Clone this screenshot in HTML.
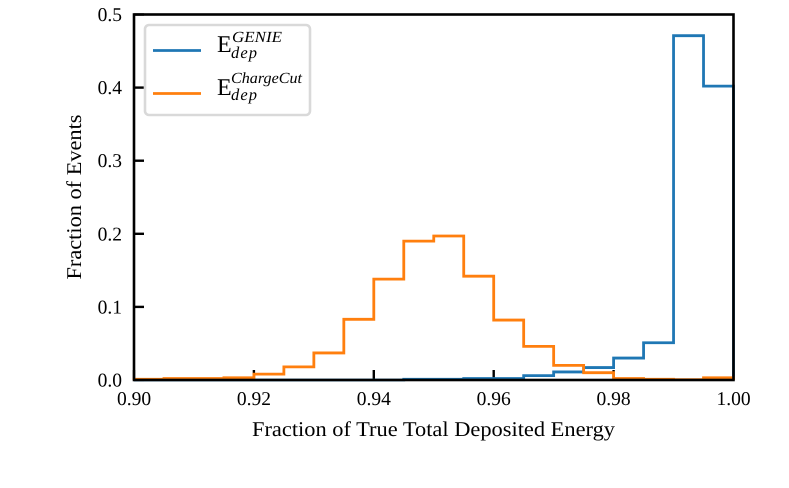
<!DOCTYPE html>
<html>
<head>
<meta charset="utf-8">
<style>
html,body{margin:0;padding:0;background:#fff;}
svg{display:block;}
text{font-family:"Liberation Serif",serif;fill:#000;text-rendering:geometricPrecision;}
</style>
</head>
<body>
<svg id="chart" width="789" height="488" viewBox="0 0 789 488" xmlns="http://www.w3.org/2000/svg">
  <rect x="134" y="14.5" width="599.5" height="365.5" fill="#fff"/>
  <g id="ticks"></g>
  <g id="series"></g>
  <g id="labels"></g>
  <rect x="134" y="14.5" width="599.5" height="365.5" fill="none" stroke="#000" stroke-width="2.6"/>
  <text x="433.5" y="436" font-size="21" text-anchor="middle" textLength="363" lengthAdjust="spacingAndGlyphs">Fraction of True Total Deposited Energy</text>
  <text transform="translate(81,197) rotate(-90)" font-size="21" text-anchor="middle" textLength="165" lengthAdjust="spacingAndGlyphs">Fraction of Events</text>
  <g>
    <rect x="145" y="25" width="165" height="90" rx="4" ry="4" fill="#fff" fill-opacity="0.9" stroke="#d9d9d9" stroke-width="2.6"/>
    <line x1="153" x2="201" y1="50.5" y2="50.5" stroke="#1f77b4" stroke-width="2.8"/>
    <text x="217" y="52" font-size="24">E</text>
    <text x="232" y="42" font-size="15.5" font-style="italic" textLength="50" lengthAdjust="spacingAndGlyphs">GENIE</text>
    <text x="231" y="58" font-size="16.5" font-style="italic" textLength="26">dep</text>
    <line x1="153" x2="201" y1="93.5" y2="93.5" stroke="#ff7f0e" stroke-width="2.8"/>
    <text x="217" y="95" font-size="24">E</text>
    <text x="231" y="83" font-size="15.5" font-style="italic" textLength="71" lengthAdjust="spacingAndGlyphs">ChargeCut</text>
    <text x="231" y="100" font-size="16.5" font-style="italic" textLength="26">dep</text>
  </g>
</svg>
<script>
const binEdges = [0.90,0.905,0.91,0.915,0.92,0.925,0.93,0.935,0.94,0.945,0.95,0.955,0.96,0.965,0.97,0.975,0.98,0.985,0.99,0.995,1.00];
const genieValues = [0,0,0,0,0,0,0,0,0,0.001,0.001,0.002,0.002,0.006,0.011,0.017,0.03,0.051,0.471,0.402];
const chargeCutValues = [0.001,0.002,0.002,0.003,0.008,0.018,0.037,0.083,0.138,0.19,0.197,0.142,0.082,0.046,0.02,0.01,0.002,0.001,0.0005,0.003];
const xTickLabels = ["0.90","0.92","0.94","0.96","0.98","1.00"];
const yTickLabels = ["0.0","0.1","0.2","0.3","0.4","0.5"];

const NS = 'http://www.w3.org/2000/svg';
const xMin = 0.9, xMax = 1.0, yMin = 0, yMax = 0.5;
const left = 134, right = 733.5, top_ = 14.5, bottom = 380;
function xScale(v){ return left + (v - xMin) / (xMax - xMin) * (right - left); }
function yScale(v){ return bottom - (v - yMin) / (yMax - yMin) * (bottom - top_); }

const ticksG = document.getElementById('ticks');
const labelsG = document.getElementById('labels');
const seriesG = document.getElementById('series');

xTickLabels.forEach(function(t){
  const x = xScale(parseFloat(t));
  const tick = document.createElementNS(NS, 'line');
  
  
  tick.setAttribute('x1', x);
  tick.setAttribute('x2', x);
  tick.setAttribute('y1', bottom);
  tick.setAttribute('y2', bottom - 10);
  tick.setAttribute('stroke', '#000');
  tick.setAttribute('stroke-width', '2.4');
  ticksG.appendChild(tick);
  const label = document.createElementNS(NS, 'text');
  
  
  label.setAttribute('x', x);
  label.setAttribute('y', 405);
  label.setAttribute('font-size', '19.5');
  label.setAttribute('text-anchor', 'middle');
  label.textContent = t;
  labelsG.appendChild(label);
});

yTickLabels.forEach(function(t){
  const y = yScale(parseFloat(t));
  const tick = document.createElementNS(NS, 'line');
  
  
  tick.setAttribute('x1', left);
  tick.setAttribute('x2', left + 10);
  tick.setAttribute('y1', y);
  tick.setAttribute('y2', y);
  tick.setAttribute('stroke', '#000');
  tick.setAttribute('stroke-width', '2.4');
  ticksG.appendChild(tick);
  const label = document.createElementNS(NS, 'text');
  
  
  label.setAttribute('x', 122);
  label.setAttribute('y', y + 6.5);
  label.setAttribute('font-size', '19.5');
  label.setAttribute('text-anchor', 'end');
  label.textContent = t;
  labelsG.appendChild(label);
});

function stepPath(values){
  let d = 'M' + xScale(binEdges[0]) + ' ' + yScale(0);
  values.forEach(function(v, i){
    d += ' L' + xScale(binEdges[i]) + ' ' + yScale(v);
    d += ' L' + xScale(binEdges[i + 1]) + ' ' + yScale(v);
  });
  d += ' L' + xScale(binEdges[values.length]) + ' ' + yScale(0);
  return d;
}

const geniePath = document.createElementNS(NS, 'path');


geniePath.setAttribute('d', stepPath(genieValues));
geniePath.setAttribute('fill', 'none');
geniePath.setAttribute('stroke', '#1f77b4');
geniePath.setAttribute('stroke-width', '2.8');
geniePath.setAttribute('stroke-linejoin', 'miter');
seriesG.appendChild(geniePath);

const chargeCutPath = document.createElementNS(NS, 'path');


chargeCutPath.setAttribute('d', stepPath(chargeCutValues));
chargeCutPath.setAttribute('fill', 'none');
chargeCutPath.setAttribute('stroke', '#ff7f0e');
chargeCutPath.setAttribute('stroke-width', '2.8');
chargeCutPath.setAttribute('stroke-linejoin', 'miter');
seriesG.appendChild(chargeCutPath);
</script>
</body>
</html>
